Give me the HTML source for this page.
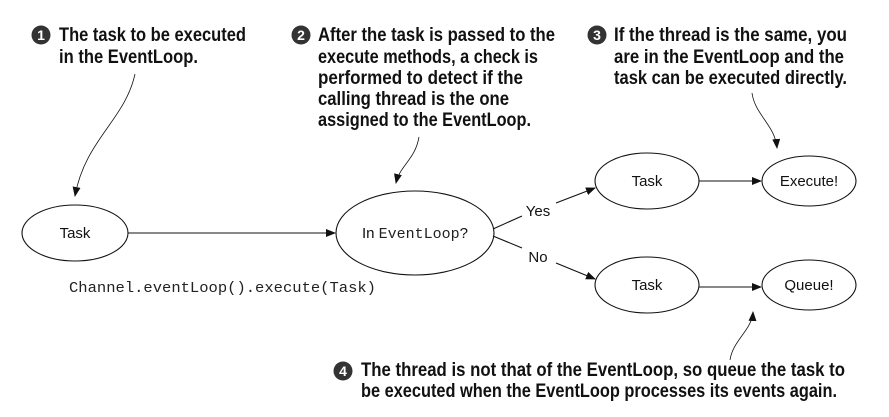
<!DOCTYPE html>
<html><head><meta charset="utf-8"><style>
html,body{margin:0;padding:0;background:#fff;}
svg{display:block;}
.b{font-family:"Liberation Sans Narrow","Liberation Sans",sans-serif;font-weight:bold;font-size:19px;fill:#111;}
.n{font-family:"Liberation Sans",sans-serif;font-size:15px;fill:#111;}
.m{font-family:"Liberation Mono",monospace;font-size:15px;fill:#222;}
.c{font-family:"Liberation Sans",sans-serif;font-weight:bold;font-size:14px;fill:#fff;}
</style></head><body>
<svg width="889" height="417" viewBox="0 0 889 417" xmlns="http://www.w3.org/2000/svg">
<defs><marker id="a" markerWidth="10" markerHeight="8" refX="9" refY="4" orient="auto" markerUnits="userSpaceOnUse"><path d="M0,0 L10,4 L0,8 z" fill="#111"/></marker></defs>
<g fill="none" stroke="#111" stroke-width="1.1">
<ellipse cx="75" cy="233" rx="53" ry="28"/>
<ellipse cx="415" cy="233" rx="79" ry="42"/>
<ellipse cx="647" cy="181" rx="52" ry="28"/>
<ellipse cx="809" cy="181" rx="47" ry="25"/>
<ellipse cx="647" cy="285" rx="52" ry="28"/>
<ellipse cx="809" cy="285" rx="47" ry="25"/>
<line x1="128" y1="233" x2="335" y2="233" marker-end="url(#a)"/>
<line x1="699" y1="181" x2="761" y2="181" marker-end="url(#a)"/>
<line x1="699" y1="287" x2="761" y2="287" marker-end="url(#a)"/>
<line x1="493" y1="229" x2="522" y2="216"/>
<line x1="556" y1="203" x2="595" y2="188" marker-end="url(#a)"/>
<line x1="493" y1="236" x2="522" y2="248"/>
<line x1="556" y1="263" x2="595" y2="279" marker-end="url(#a)"/>
<path d="M135,74 C125,120 85,140 75,196" stroke-width="0.8" marker-end="url(#a)"/>
<path d="M419,137 C415,160 400,165 396,183" stroke-width="0.8" marker-end="url(#a)"/>
<path d="M752,93 C755,115 775,125 777,148" stroke-width="0.8" marker-end="url(#a)"/>
<path d="M730,360 C733,340 752,330 753,312" stroke-width="0.8" marker-end="url(#a)"/>
</g>
<text class="n" x="75" y="238" text-anchor="middle">Task</text>
<text x="415" y="238" text-anchor="middle"><tspan class="n">In </tspan><tspan class="m">EventLoop</tspan><tspan class="n">?</tspan></text>
<text class="n" x="647" y="186" text-anchor="middle">Task</text>
<text class="n" x="809" y="186" text-anchor="middle">Execute!</text>
<text class="n" x="647" y="290" text-anchor="middle">Task</text>
<text class="n" x="809" y="290" text-anchor="middle">Queue!</text>
<text class="n" x="538" y="216" text-anchor="middle">Yes</text>
<text class="n" x="538" y="262" text-anchor="middle">No</text>
<text class="m" x="69" y="292" textLength="307" lengthAdjust="spacingAndGlyphs">Channel.eventLoop().execute(Task)</text>
<g fill="#333"><circle cx="41" cy="35" r="9.5"/><circle cx="301" cy="35" r="9.5"/><circle cx="597" cy="35" r="9.5"/><circle cx="343" cy="371" r="9.5"/></g>
<text class="c" x="41" y="40" text-anchor="middle">1</text>
<text class="c" x="301" y="40" text-anchor="middle">2</text>
<text class="c" x="597" y="40" text-anchor="middle">3</text>
<text class="c" x="343" y="376" text-anchor="middle">4</text>
<g class="b">
<text x="59" y="41" textLength="187" lengthAdjust="spacingAndGlyphs">The task to be executed</text>
<text x="59" y="63" textLength="139" lengthAdjust="spacingAndGlyphs">in the EventLoop.</text>
<text x="318" y="41" textLength="237" lengthAdjust="spacingAndGlyphs">After the task is passed to the</text>
<text x="318" y="63" textLength="220" lengthAdjust="spacingAndGlyphs">execute methods, a check is</text>
<text x="318" y="84" textLength="205" lengthAdjust="spacingAndGlyphs">performed to detect if the</text>
<text x="318" y="105" textLength="191" lengthAdjust="spacingAndGlyphs">calling thread is the one</text>
<text x="318" y="126" textLength="213" lengthAdjust="spacingAndGlyphs">assigned to the EventLoop.</text>
<text x="614" y="41" textLength="233" lengthAdjust="spacingAndGlyphs">If the thread is the same, you</text>
<text x="614" y="63" textLength="230" lengthAdjust="spacingAndGlyphs">are in the EventLoop and the</text>
<text x="614" y="84" textLength="233" lengthAdjust="spacingAndGlyphs">task can be executed directly.</text>
<text x="361" y="376" textLength="484" lengthAdjust="spacingAndGlyphs">The thread is not that of the EventLoop, so queue the task to</text>
<text x="361" y="397" textLength="476" lengthAdjust="spacingAndGlyphs">be executed when the EventLoop processes its events again.</text>
</g>
</svg>
</body></html>
